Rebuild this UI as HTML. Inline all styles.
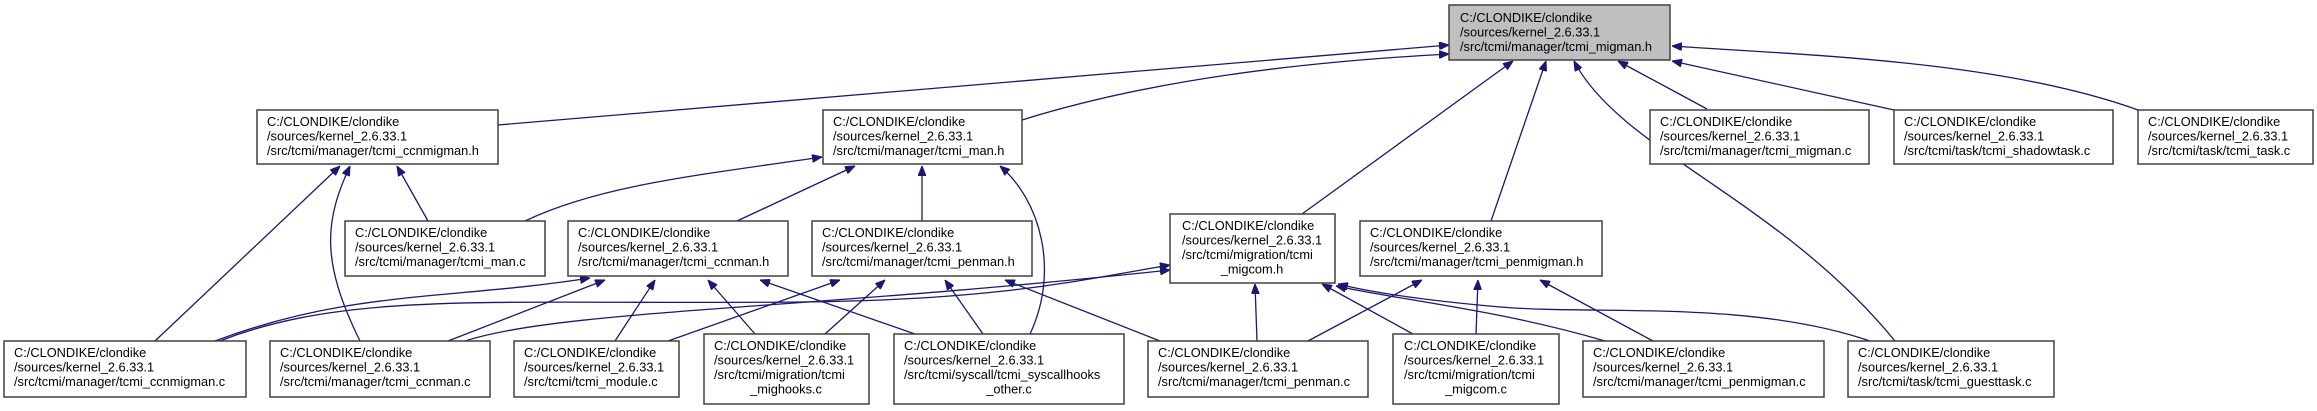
<!DOCTYPE html>
<html><head><meta charset="utf-8"><style>
html,body{margin:0;padding:0;background:#fff;width:2317px;height:411px;overflow:hidden}
svg text{font-family:"Liberation Sans",Arial,sans-serif;font-size:12.8px;fill:#000}
.b{fill:#fff;stroke:#404040;stroke-width:1.5}
.e{fill:none;stroke:#191970;stroke-width:1.3}
</style></head><body>
<svg width="2317" height="411" viewBox="0 0 2317 411" xmlns="http://www.w3.org/2000/svg">
<defs><marker id="a" viewBox="0 0 10 8" refX="10" refY="4" markerWidth="10" markerHeight="8" markerUnits="userSpaceOnUse" orient="auto"><path d="M0,0L10,4L0,8z" fill="#191970" stroke="#191970"/></marker></defs>
<g class="e" marker-end="url(#a)">
<path d="M498,125 L1449,45"/>
<path d="M1022,120 C1150,80 1300,62 1449,54"/>
<path d="M1302,214 L1513,61"/>
<path d="M1491,221 L1546,61"/>
<path d="M1895,341 C1780,200 1620,150 1574,61"/>
<path d="M1707,109 L1618,61"/>
<path d="M1894,110 L1672,61"/>
<path d="M2138,110 C2000,60 1800,55 1672,46"/>
<path d="M155,341 L340,166"/>
<path d="M360,341 C320,260 325,220 350,166"/>
<path d="M428,221 L397,166"/>
<path d="M525,221 C600,185 700,175 822,157"/>
<path d="M737,221 L855,166"/>
<path d="M922,221 L922,166"/>
<path d="M1030,334 C1060,270 1040,200 1000,166"/>
<path d="M215,341 C350,290 450,300 590,278"/>
<path d="M448,341 L605,280"/>
<path d="M615,341 L655,280"/>
<path d="M755,334 L708,280"/>
<path d="M915,334 L760,280"/>
<path d="M668,341 L840,280"/>
<path d="M825,334 L885,280"/>
<path d="M983,334 L945,280"/>
<path d="M1160,341 L1005,280"/>
<path d="M220,341 C350,290 500,305 800,302 C1000,300 1080,280 1170,265"/>
<path d="M465,341 C560,310 800,310 1170,270"/>
<path d="M1257,341 L1255,284"/>
<path d="M1413,334 L1322,284"/>
<path d="M1605,341 C1500,310 1400,300 1336,286"/>
<path d="M1870,341 C1750,300 1600,315 1500,307 C1420,300 1370,292 1338,284"/>
<path d="M1308,341 L1422,280"/>
<path d="M1476,334 L1478,280"/>
<path d="M1653,341 L1540,280"/>
</g>
<rect x="1449" y="5" width="221" height="55" fill="#bfbfbf" stroke="#404040" stroke-width="1.5"/>
<text x="1460" y="22">C:/CLONDIKE/clondike</text><text x="1460" y="36.5">/sources/kernel_2.6.33.1</text><text x="1460" y="51">/src/tcmi/manager/tcmi_migman.h</text>

<rect class="b" x="257" y="110" width="241" height="54"/>
<text x="267" y="126">C:/CLONDIKE/clondike</text><text x="267" y="140.5">/sources/kernel_2.6.33.1</text><text x="267" y="155">/src/tcmi/manager/tcmi_ccnmigman.h</text>

<rect class="b" x="823" y="110" width="199" height="54"/>
<text x="833" y="126">C:/CLONDIKE/clondike</text><text x="833" y="140.5">/sources/kernel_2.6.33.1</text><text x="833" y="155">/src/tcmi/manager/tcmi_man.h</text>

<rect class="b" x="1650" y="110" width="219" height="54"/>
<text x="1660" y="126">C:/CLONDIKE/clondike</text><text x="1660" y="140.5">/sources/kernel_2.6.33.1</text><text x="1660" y="155">/src/tcmi/manager/tcmi_migman.c</text>

<rect class="b" x="1894" y="110" width="219" height="54"/>
<text x="1904" y="126">C:/CLONDIKE/clondike</text><text x="1904" y="140.5">/sources/kernel_2.6.33.1</text><text x="1904" y="155">/src/tcmi/task/tcmi_shadowtask.c</text>

<rect class="b" x="2138" y="110" width="175" height="54"/>
<text x="2148" y="126">C:/CLONDIKE/clondike</text><text x="2148" y="140.5">/sources/kernel_2.6.33.1</text><text x="2148" y="155">/src/tcmi/task/tcmi_task.c</text>

<rect class="b" x="345" y="221" width="200" height="55"/>
<text x="355" y="237">C:/CLONDIKE/clondike</text><text x="355" y="251.5">/sources/kernel_2.6.33.1</text><text x="355" y="266">/src/tcmi/manager/tcmi_man.c</text>

<rect class="b" x="568" y="221" width="220" height="55"/>
<text x="578" y="237">C:/CLONDIKE/clondike</text><text x="578" y="251.5">/sources/kernel_2.6.33.1</text><text x="578" y="266">/src/tcmi/manager/tcmi_ccnman.h</text>

<rect class="b" x="812" y="221" width="220" height="55"/>
<text x="822" y="237">C:/CLONDIKE/clondike</text><text x="822" y="251.5">/sources/kernel_2.6.33.1</text><text x="822" y="266">/src/tcmi/manager/tcmi_penman.h</text>

<rect class="b" x="1170" y="214" width="165" height="69"/>
<text x="1182" y="230">C:/CLONDIKE/clondike</text><text x="1182" y="244.5">/sources/kernel_2.6.33.1</text><text x="1182" y="259">/src/tcmi/migration/tcmi</text><text x="1252" y="273.5" text-anchor="middle">_migcom.h</text>

<rect class="b" x="1360" y="221" width="242" height="55"/>
<text x="1370" y="237">C:/CLONDIKE/clondike</text><text x="1370" y="251.5">/sources/kernel_2.6.33.1</text><text x="1370" y="266">/src/tcmi/manager/tcmi_penmigman.h</text>

<rect class="b" x="4" y="341" width="242" height="56"/>
<text x="14" y="357">C:/CLONDIKE/clondike</text><text x="14" y="371.5">/sources/kernel_2.6.33.1</text><text x="14" y="386">/src/tcmi/manager/tcmi_ccnmigman.c</text>

<rect class="b" x="270" y="341" width="220" height="56"/>
<text x="280" y="357">C:/CLONDIKE/clondike</text><text x="280" y="371.5">/sources/kernel_2.6.33.1</text><text x="280" y="386">/src/tcmi/manager/tcmi_ccnman.c</text>

<rect class="b" x="514" y="341" width="165" height="56"/>
<text x="524" y="357">C:/CLONDIKE/clondike</text><text x="524" y="371.5">/sources/kernel_2.6.33.1</text><text x="524" y="386">/src/tcmi/tcmi_module.c</text>

<rect class="b" x="704" y="334" width="165" height="70"/>
<text x="714" y="350">C:/CLONDIKE/clondike</text><text x="714" y="364.5">/sources/kernel_2.6.33.1</text><text x="714" y="379">/src/tcmi/migration/tcmi</text><text x="786" y="393.5" text-anchor="middle">_mighooks.c</text>

<rect class="b" x="894" y="334" width="230" height="70"/>
<text x="904" y="350">C:/CLONDIKE/clondike</text><text x="904" y="364.5">/sources/kernel_2.6.33.1</text><text x="904" y="379">/src/tcmi/syscall/tcmi_syscallhooks</text><text x="1009" y="393.5" text-anchor="middle">_other.c</text>

<rect class="b" x="1148" y="341" width="220" height="56"/>
<text x="1158" y="357">C:/CLONDIKE/clondike</text><text x="1158" y="371.5">/sources/kernel_2.6.33.1</text><text x="1158" y="386">/src/tcmi/manager/tcmi_penman.c</text>

<rect class="b" x="1393" y="334" width="166" height="70"/>
<text x="1404" y="350">C:/CLONDIKE/clondike</text><text x="1404" y="364.5">/sources/kernel_2.6.33.1</text><text x="1404" y="379">/src/tcmi/migration/tcmi</text><text x="1476" y="393.5" text-anchor="middle">_migcom.c</text>

<rect class="b" x="1583" y="341" width="241" height="56"/>
<text x="1593" y="357">C:/CLONDIKE/clondike</text><text x="1593" y="371.5">/sources/kernel_2.6.33.1</text><text x="1593" y="386">/src/tcmi/manager/tcmi_penmigman.c</text>

<rect class="b" x="1848" y="341" width="206" height="56"/>
<text x="1858" y="357">C:/CLONDIKE/clondike</text><text x="1858" y="371.5">/sources/kernel_2.6.33.1</text><text x="1858" y="386">/src/tcmi/task/tcmi_guesttask.c</text>
</svg>
</body></html>
